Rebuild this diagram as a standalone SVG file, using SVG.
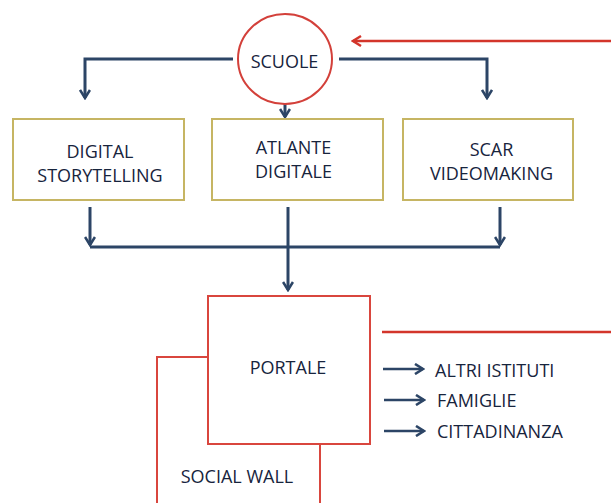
<svg xmlns="http://www.w3.org/2000/svg" width="611" height="503" viewBox="0 0 611 503">
  <style>
    .lbl { font-family: "Open Sans", "Liberation Sans", sans-serif; font-size: 18px; fill: #17243d; }
    .mid { text-anchor: middle; }
    .box { fill: #ffffff; stroke: #c6b563; stroke-width: 2; }
    .redbox { fill: #ffffff; stroke: #d9463e; stroke-width: 2; }
    .blue { fill: none; stroke: #2c4566; stroke-width: 3; }
    .blueThin { fill: none; stroke: #2c4566; stroke-width: 2.5; }
    .red { fill: none; stroke: #d3352b; stroke-width: 2.5; }
  </style>
  <defs>
    <marker id="ahBlue" viewBox="0 0 12 12" refX="10" refY="6" markerWidth="12" markerHeight="12" markerUnits="userSpaceOnUse" orient="auto">
      <path d="M2,1 L10,6 L2,11" fill="none" stroke="#2c4566" stroke-width="2.6"/>
    </marker>
    <marker id="ahRed" viewBox="0 0 12 12" refX="10" refY="6" markerWidth="12" markerHeight="12" markerUnits="userSpaceOnUse" orient="auto">
      <path d="M2,1 L10,6 L2,11" fill="none" stroke="#d3352b" stroke-width="2.4"/>
    </marker>
  </defs>
  <rect width="611" height="503" fill="#ffffff"/>

  <g id="social-wall">
    <rect class="redbox" x="157" y="357" width="163" height="160"/>
    <text class="lbl mid" x="237" y="483.4">SOCIAL WALL</text>
  </g>

  <g id="portale">
    <rect class="redbox" x="208" y="296" width="162" height="148"/>
    <text class="lbl mid" x="288" y="374.4">PORTALE</text>
  </g>

  <g id="connectors">
    <path class="red" d="M611,41 H353" marker-end="url(#ahRed)"/>
    <path class="blue" d="M233,59 H85 V98" marker-end="url(#ahBlue)"/>
    <path class="blue" d="M339,59 H487 V98" marker-end="url(#ahBlue)"/>
    <path class="blue" d="M285,104 V117" marker-end="url(#ahBlue)"/>
    <path class="blue" d="M90,207 V245" marker-end="url(#ahBlue)"/>
    <path class="blue" d="M500,207 V245" marker-end="url(#ahBlue)"/>
    <path class="blue" d="M90,247 H500"/>
    <path class="blue" d="M288,207 V290" marker-end="url(#ahBlue)"/>
    <path class="red" d="M382,332 H611"/>
    <path class="blueThin" d="M383,369 H423" marker-end="url(#ahBlue)"/>
    <path class="blueThin" d="M384,400 H424" marker-end="url(#ahBlue)"/>
    <path class="blueThin" d="M384,431 H424" marker-end="url(#ahBlue)"/>
  </g>

  <g id="scuole">
    <ellipse cx="285" cy="59" rx="47" ry="45" fill="#ffffff" stroke="#d3403a" stroke-width="2"/>
    <text class="lbl mid" x="284.5" y="68.4">SCUOLE</text>
  </g>

  <g id="digital-storytelling">
    <rect class="box" x="13" y="119" width="171" height="81"/>
    <text class="lbl mid" x="100" y="158.4">DIGITAL</text>
    <text class="lbl mid" x="100" y="182.4">STORYTELLING</text>
  </g>

  <g id="atlante-digitale">
    <rect class="box" x="212" y="119" width="171" height="81"/>
    <text class="lbl mid" x="293.5" y="154.4">ATLANTE</text>
    <text class="lbl mid" x="293.5" y="178.4">DIGITALE</text>
  </g>

  <g id="scar-videomaking">
    <rect class="box" x="403" y="119" width="170" height="81"/>
    <text class="lbl mid" x="491.5" y="156.4">SCAR</text>
    <text class="lbl mid" x="491.5" y="180.4">VIDEOMAKING</text>
  </g>

  <g id="altri-istituti">
    <text class="lbl" x="435" y="377.4">ALTRI ISTITUTI</text>
  </g>
  <g id="famiglie">
    <text class="lbl" x="437" y="407.4">FAMIGLIE</text>
  </g>
  <g id="cittadinanza">
    <text class="lbl" x="437" y="438.4">CITTADINANZA</text>
  </g>
</svg>
